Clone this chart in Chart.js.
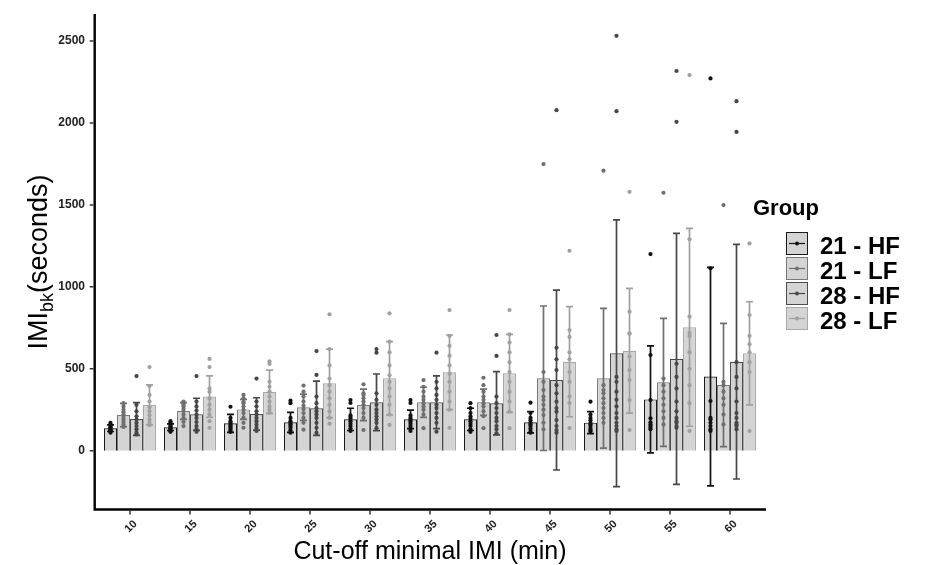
<!DOCTYPE html>
<html><head><meta charset="utf-8">
<script src="https://cdn.jsdelivr.net/npm/chart.js@4/dist/chart.umd.min.js"></script>
<style>html,body{margin:0;padding:0;background:#fff}#wrap{width:929px;height:565px;position:relative}</style>
</head><body><div id="wrap"><canvas id="c" width="929" height="565"></canvas></div>
<script>
const categories = ['10','15','20','25','30','35','40','45','50','55','60'];
const groups = ['21 - HF','21 - LF','28 - HF','28 - LF'];
const yTicks = [0,500,1000,1500,2000,2500];

const mean21HF = [137,143,167,173,191,191,191,173,171,313,452];
const mean21LF = [218,242,252,265,279,295,295,442,442,417,401];
const mean28HF = [193,222,224,259,295,295,289,431,594,560,543];
const mean28LF = [279,330,360,411,442,478,472,543,610,753,594];

const sd21HF = [20,20,55,61,68,57,68,65,67,326,667];
const sd21LF = [71,51,61,80,96,92,80,441,427,391,376];
const sd28HF = [100,98,99,166,173,161,193,549,814,766,716];
const sd28LF = [122,126,132,209,223,228,238,336,381,604,315];

const pts21HF = [
  [110,118,125,130,135,140,145,150,160,170],
  [115,120,128,135,140,145,150,160,170,180],
  [115,125,135,145,150,160,170,180,200,268],
  [110,125,140,150,160,170,180,200,290,305],
  [120,135,150,165,180,195,205,215,291,309],
  [120,135,150,165,180,190,200,215,291,309],
  [115,130,150,165,180,195,210,230,260,290],
  [110,120,135,150,160,170,185,200,230,293],
  [115,125,135,150,160,170,185,200,220,299],
  [130,140,150,160,173,198,309,584,1200],
  [120,130,150,170,190,200,303,1113,2272]
];
const pts21LF = [
  [145,160,175,190,205,220,235,250,270,290],
  [150,175,200,220,240,255,270,280,290,300],
  [140,170,200,230,250,270,290,300,320,340],
  [128,170,200,230,255,275,300,330,360,397],
  [126,200,230,260,280,300,320,340,350,405],
  [137,220,250,270,290,310,330,360,390,431],
  [137,210,240,270,290,310,330,360,400,445],
  [130,170,217,250,280,309,330,370,420,480,1749],
  [170,200,230,260,290,320,350,370,400,1709],
  [160,200,240,280,320,360,400,440,1574],
  [160,220,280,320,360,400,420,1499]
];
const pts28HF = [
  [100,110,130,150,170,190,210,240,280,455],
  [115,130,150,175,200,220,245,270,300,455],
  [120,140,160,180,200,220,240,270,300,440],
  [108,140,170,200,220,240,260,290,330,462,608],
  [137,170,190,210,230,250,280,310,350,598,620],
  [116,170,200,230,260,280,310,340,380,420,598],
  [106,130,150,180,200,230,260,290,330,578,706],
  [110,126,150,187,238,260,299,350,400,492,558,628,2078],
  [120,130,150,170,200,230,270,310,360,420,450,2072,2532],
  [140,150,170,180,200,240,300,380,450,530,2007,2317],
  [130,150,160,170,200,230,300,380,450,540,1945,2133]
];
const pts28LF = [
  [155,170,190,215,240,265,300,340,395,510],
  [140,180,220,250,280,320,360,380,510,560],
  [230,250,270,300,330,360,390,420,530,545],
  [165,200,240,280,320,360,400,440,520,620,832],
  [157,220,280,330,380,420,460,520,600,665,838],
  [140,250,300,360,420,470,520,580,640,700,858],
  [137,238,300,360,420,480,540,600,660,710,858],
  [138,291,330,420,480,558,600,694,736,1220],
  [126,309,431,492,574,713,716,848,1580],
  [120,290,400,500,600,700,718,818,1290,2292],
  [120,480,540,600,650,700,828,1265]
];

const borderCols = ['#1a1a1a','#7a7a7a','#4d4d4d','#a8a8a8'];
const markCols = ['#111111','#6f6f6f','#474747','#a0a0a0'];
const barFill = '#d4d4d4';
const FONT = "'Liberation Sans', Arial, sans-serif";

const means = [mean21HF, mean21LF, mean28HF, mean28LF];
const sds = [sd21HF, sd21LF, sd28HF, sd28LF];
const pts = [pts21HF, pts21LF, pts28HF, pts28LF];

const overlay = {
  id: 'overlay',
  afterDatasetsDraw(chart) {
    const ctx = chart.ctx, ys = chart.scales.y;
    ctx.save();
    for (let i = 0; i < 4; i++) {
      const meta = chart.getDatasetMeta(i);
      meta.data.forEach((bar, j) => {
        const x = bar.x;
        const t = ys.getPixelForValue(means[i][j] + sds[i][j]);
        const b = ys.getPixelForValue(means[i][j] - sds[i][j]);
        ctx.strokeStyle = markCols[i];
        ctx.lineWidth = 1.7;
        ctx.beginPath();
        ctx.moveTo(x, t); ctx.lineTo(x, b);
        ctx.moveTo(x - 3.5, t); ctx.lineTo(x + 3.5, t);
        ctx.moveTo(x - 3.5, b); ctx.lineTo(x + 3.5, b);
        ctx.stroke();
      });
    }
    for (let i = 0; i < 4; i++) {
      const meta = chart.getDatasetMeta(i);
      meta.data.forEach((bar, j) => {
        ctx.fillStyle = markCols[i];
        pts[i][j].forEach(v => {
          ctx.beginPath();
          ctx.arc(bar.x, ys.getPixelForValue(v), 2.1, 0, Math.PI * 2);
          ctx.fill();
        });
      });
    }
    ctx.restore();
  },
  afterDraw(chart) {
    const ctx = chart.ctx, ca = chart.chartArea, xs = chart.scales.x, ys = chart.scales.y;
    ctx.save();
    const axX = ca.left - 5.3, axY = ca.bottom + 0.5;
    ctx.strokeStyle = '#000';
    ctx.lineWidth = 2.4;
    ctx.beginPath();
    ctx.moveTo(axX, ca.top); ctx.lineTo(axX, axY + 1.2);
    ctx.moveTo(axX - 1.2, axY); ctx.lineTo(ca.right + 6, axY);
    ctx.stroke();
    ctx.lineWidth = 1.5;
    ctx.strokeStyle = '#333';
    ctx.beginPath();
    yTicks.forEach(v => { const p = ys.getPixelForValue(v); ctx.moveTo(axX - 5, p); ctx.lineTo(axX - 1, p); });
    categories.forEach((c, k) => { const p = xs.getPixelForTick(k); ctx.moveTo(p, axY + 1); ctx.lineTo(p, axY + 5); });
    ctx.stroke();
    ctx.fillStyle = '#222';
    ctx.font = 'bold 11px ' + FONT;
    ctx.textAlign = 'center'; ctx.textBaseline = 'middle';
    categories.forEach((c, k) => {
      const p = xs.getPixelForTick(k);
      ctx.save(); ctx.translate(p + 1, axY + 17); ctx.rotate(-Math.PI / 4); ctx.fillText(c, 0, 0); ctx.restore();
    });
    ctx.fillStyle = '#000';
    ctx.font = '25px ' + FONT;
    ctx.textAlign = 'center'; ctx.textBaseline = 'alphabetic';
    ctx.fillText('Cut-off minimal IMI (min)', 430, 559);
    ctx.save();
    ctx.translate(47, 262);
    ctx.rotate(-Math.PI / 2);
    ctx.textAlign = 'left';
    const big = '27px ' + FONT, small = '18px ' + FONT;
    ctx.font = big; const w1 = ctx.measureText('IMI').width; const w3 = ctx.measureText('(seconds)').width;
    ctx.font = small; const w2 = ctx.measureText('bk').width;
    let sx = -(w1 + w2 + w3) / 2;
    ctx.font = big; ctx.fillText('IMI', sx, 0); sx += w1;
    ctx.font = small; ctx.fillText('bk', sx, 6); sx += w2;
    ctx.font = big; ctx.fillText('(seconds)', sx, 0);
    ctx.restore();
    ctx.font = 'bold 22px ' + FONT;
    ctx.fillStyle = '#000';
    ctx.fillText('Group', 786, 215);
    groups.forEach((g, i) => {
      const bx = 786, by = 232 + 25 * i;
      ctx.fillStyle = barFill;
      ctx.fillRect(bx, by, 22, 23);
      ctx.strokeStyle = borderCols[i]; ctx.lineWidth = 1;
      ctx.strokeRect(bx + 0.5, by + 0.5, 21, 22);
      ctx.strokeStyle = markCols[i]; ctx.lineWidth = 1.2;
      ctx.beginPath(); ctx.moveTo(bx + 3, by + 11.5); ctx.lineTo(bx + 19, by + 11.5); ctx.stroke();
      ctx.fillStyle = markCols[i];
      ctx.beginPath(); ctx.arc(bx + 11, by + 11.5, 2, 0, Math.PI * 2); ctx.fill();
      ctx.fillStyle = '#000';
      ctx.font = 'bold 24px ' + FONT;
      ctx.textAlign = 'left';
      ctx.fillText(g, 820, 254 + 25 * i);
    });
    ctx.restore();
  }
};

new Chart(document.getElementById('c'), {
  type: 'bar',
  data: {
    labels: categories,
    datasets: groups.map((g, i) => ({
      label: g,
      data: means[i],
      backgroundColor: barFill,
      borderColor: borderCols[i],
      borderWidth: 1.2,
      categoryPercentage: 0.867,
      barPercentage: 1.0
    }))
  },
  options: {
    responsive: false,
    animation: false,
    devicePixelRatio: 1,
    layout: { padding: { left: 0, right: 169, top: 14, bottom: 0 } },
    plugins: { legend: { display: false }, tooltip: { enabled: false } },
    scales: {
      x: {
        type: 'category',
        offset: true,
        grid: { display: false, drawTicks: false },
        border: { display: false },
        ticks: { display: false },
        afterFit: s => { s.height = 56; s.paddingLeft = 0; s.paddingRight = 0; }
      },
      y: {
        type: 'linear',
        min: -356, max: 2665,
        afterBuildTicks: s => { s.ticks = yTicks.map(v => ({ value: v })); },
        grid: { display: false, drawTicks: false },
        border: { display: false },
        ticks: { color: '#222', padding: 15, font: { family: FONT, size: 12, weight: 'bold' }, callback: v => String(v) },
        afterFit: s => { s.width = 100; s.paddingTop = 0; s.paddingBottom = 0; }
      }
    }
  },
  plugins: [overlay]
});
</script>
</body></html>
